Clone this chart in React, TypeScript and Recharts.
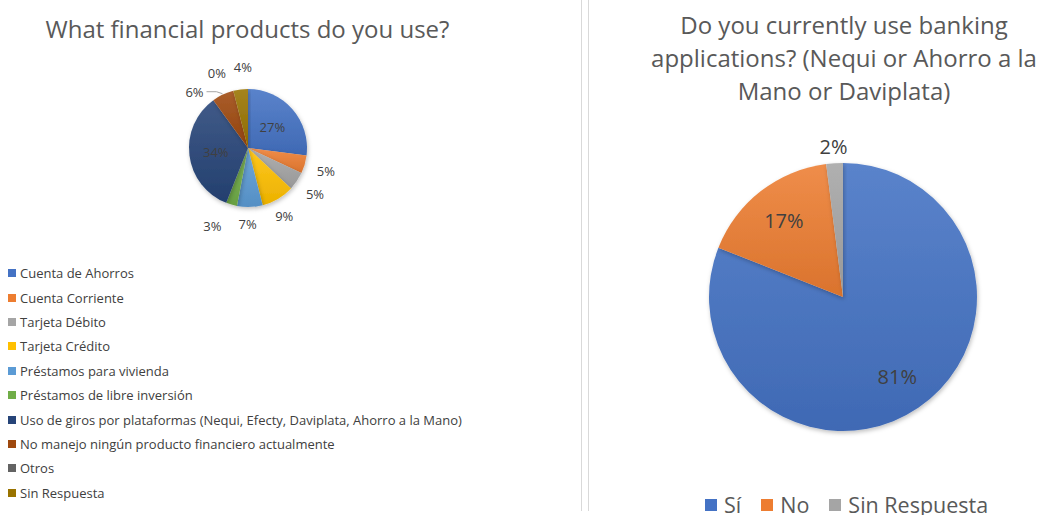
import React from "react"
import { PieChart, Pie, Cell, Legend } from "recharts"

// left chart: financial products (% of respondents)
const productNames = [
  "Cuenta de Ahorros",
  "Cuenta Corriente",
  "Tarjeta Débito",
  "Tarjeta Crédito",
  "Préstamos para vivienda",
  "Préstamos de libre inversión",
  "Uso de giros por plataformas (Nequi, Efecty, Daviplata, Ahorro a la Mano)",
  "No manejo ningún producto financiero actualmente",
  "Otros",
  "Sin Respuesta",
]
const productValues = [27, 5, 5, 9, 7, 3, 34, 6, 0, 4]

// right chart: banking apps
const appNames = ["Sí", "No", "Sin Respuesta"]
const appValues = [81, 17, 2]

const productColors = [
  "#4472C4", "#ED7D31", "#A5A5A5", "#FFC000", "#5B9BD5",
  "#70AD47", "#264478", "#9E480E", "#636363", "#997300",
]
const appColors = ["#4472C4", "#ED7D31", "#A5A5A5"]

const font = "'Open Sans', 'Noto Sans', sans-serif"
const titleColor = "#595959"
const labelColor = "#404040"
const noMargin = { top: 0, right: 0, bottom: 0, left: 0 }

// best-fit style nudges for the crowded outside labels (by slice index)
const labelNudge: Record<number, [number, number]> = {
  3: [-5, -2],
  4: [-3, -5],
  5: [-13, 0],
  7: [-19, 17],
  8: [-11, 3],
  9: [5, -1],
}

// lighten / darken a hex color, used for the slice gradients
function shade(hex: string, amt: number) {
  const n = parseInt(hex.slice(1), 16)
  const f = (c: number) => {
    const v = amt >= 0 ? c + (255 - c) * amt : c * (1 + amt)
    return Math.max(0, Math.min(255, Math.round(v)))
  }
  const r = f((n >> 16) & 255)
  const g = f((n >> 8) & 255)
  const b = f(n & 255)
  return "#" + ((1 << 24) | (r << 16) | (g << 8) | b).toString(16).slice(1)
}

const productData = productNames.map((name, i) => ({ name, value: productValues[i] }))
const appData = appNames.map((name, i) => ({ name, value: appValues[i] }))

const RAD = Math.PI / 180

function Gradients({ prefix, colors }: { prefix: string; colors: string[] }) {
  return (
    <defs>
      {colors.map((c, i) => (
        <linearGradient key={i} id={`${prefix}${i}`} x1="0" y1="0" x2="0" y2="1">
          <stop offset="0%" stopColor={shade(c, 0.12)} />
          <stop offset="100%" stopColor={shade(c, -0.08)} />
        </linearGradient>
      ))}
      <filter id={`${prefix}shadow`} x="-20%" y="-20%" width="140%" height="140%">
        <feDropShadow dx="1" dy="2" stdDeviation="2" floodColor="#000" floodOpacity="0.25" />
      </filter>
    </defs>
  )
}

// small pie labels: the two big slices inside, the rest outside
function productLabel(props: any) {
  const { cx, cy, midAngle, outerRadius, value, index } = props
  const inside = value >= 20
  const r = inside ? outerRadius * 0.55 : outerRadius + 22
  const cos = Math.cos(-midAngle * RAD)
  const sin = Math.sin(-midAngle * RAD)
  const [nx, ny] = labelNudge[index] || [0, 0]
  const x = cx + r * cos + nx
  const y = cy + r * sin + ny
  // leader line when the label was pushed far from its slice
  const pushed = Math.abs(nx) > 15
  return (
    <g>
      {pushed && (
        <polyline
          points={`${x + 12},${y} ${x + 22},${y} ${cx + (outerRadius + 1) * cos},${cy + (outerRadius + 1) * sin}`}
          fill="none"
          stroke="#a6a6a6"
          strokeWidth={1}
        />
      )}
      <text x={x} y={y} fill={labelColor} fontSize={13} fontFamily={font} textAnchor="middle" dominantBaseline="central">
        {value}%
      </text>
    </g>
  )
}

function appLabel(props: any) {
  const { cx, cy, midAngle, outerRadius, value } = props
  const inside = value >= 10
  const r = inside ? outerRadius * 0.72 : outerRadius + 17
  const x = cx + r * Math.cos(-midAngle * RAD)
  const y = cy + r * Math.sin(-midAngle * RAD)
  return (
    <text x={x} y={y} fill={labelColor} fontSize={20} fontFamily={font} textAnchor="middle" dominantBaseline="central">
      {value}%
    </text>
  )
}

function ProductLegend(props: any) {
  const { payload = [] } = props
  return (
    <div style={{ fontFamily: font, fontSize: 13, color: labelColor }}>
      {payload.map((p: any, i: number) => {
        const idx = productNames.indexOf(p.value)
        return (
          <div key={i} style={{ display: "flex", alignItems: "center", height: 24.4 }}>
            <span style={{ width: 8, height: 8, background: productColors[idx], marginRight: 4 }} />
            <span>{p.value}</span>
          </div>
        )
      })}
    </div>
  )
}

function AppLegend(props: any) {
  const { payload = [] } = props
  return (
    <div style={{ fontFamily: font, fontSize: 21.5, lineHeight: "28px", color: titleColor, display: "flex" }}>
      {payload.map((p: any, i: number) => {
        const idx = appNames.indexOf(p.value)
        return (
          <div key={i} style={{ display: "flex", alignItems: "center", marginRight: 20 }}>
            <span style={{ width: 12, height: 12, background: appColors[idx], marginRight: 7 }} />
            <span>{p.value}</span>
          </div>
        )
      })}
    </div>
  )
}

export default function App() {
  return (
    <div style={{ position: "absolute", left: 0, top: 0, width: 1039, height: 515, background: "#fff", overflow: "hidden" }}>
      {/* left chart */}
      <div
        style={{
          position: "absolute", left: 0, top: 12, width: 495, textAlign: "center",
          fontFamily: font, fontSize: 24, color: titleColor,
        }}
      >
        What financial products do you use?
      </div>
      <div style={{ position: "absolute", left: 0, top: 0 }}>
        <PieChart width={580} height={515} margin={noMargin}>
          <Gradients prefix="pg" colors={productColors} />
          <Pie
            data={productData}
            dataKey="value"
            nameKey="name"
            cx={248}
            cy={148}
            outerRadius={59}
            startAngle={90}
            endAngle={-270}
            stroke="none"
            label={productLabel}
            labelLine={false}
            isAnimationActive={false}
            style={{ filter: "url(#pgshadow)" }}
          >
            {productData.map((_, i) => (
              <Cell key={i} fill={`url(#pg${i})`} />
            ))}
          </Pie>
          <Legend
            layout="horizontal"
            align="left"
            verticalAlign="bottom"
            itemSorter={null}
            content={ProductLegend}
            wrapperStyle={{ left: 8, top: 261, bottom: "auto", width: 560 }}
          />
        </PieChart>
      </div>

      {/* divider */}
      <div style={{ position: "absolute", left: 581, top: 0, width: 1, height: 511, background: "#d9d9d9" }} />
      <div style={{ position: "absolute", left: 588, top: 0, width: 1, height: 511, background: "#d9d9d9" }} />

      {/* right chart */}
      <div
        style={{
          position: "absolute", left: 630, top: 8, width: 428, textAlign: "center",
          fontFamily: font, fontSize: 24, lineHeight: "33px", color: titleColor,
        }}
      >
        Do you currently use banking
        <br />
        applications? (Nequi or Ahorro a la
        <br />
        Mano or Daviplata)
      </div>
      <div style={{ position: "absolute", left: 590, top: 0 }}>
        <PieChart width={449} height={515} margin={noMargin}>
          <Gradients prefix="ag" colors={appColors} />
          <Pie
            data={appData}
            dataKey="value"
            nameKey="name"
            cx={253}
            cy={297}
            outerRadius={134}
            startAngle={90}
            endAngle={-270}
            stroke="none"
            label={appLabel}
            labelLine={false}
            isAnimationActive={false}
            style={{ filter: "url(#agshadow)" }}
          >
            {appData.map((_, i) => (
              <Cell key={i} fill={`url(#ag${i})`} />
            ))}
          </Pie>
          <Legend
            layout="horizontal"
            align="left"
            verticalAlign="bottom"
            itemSorter={null}
            content={AppLegend}
            wrapperStyle={{ left: 115, top: 491, bottom: "auto", width: 334 }}
          />
        </PieChart>
      </div>
    </div>
  )
}
